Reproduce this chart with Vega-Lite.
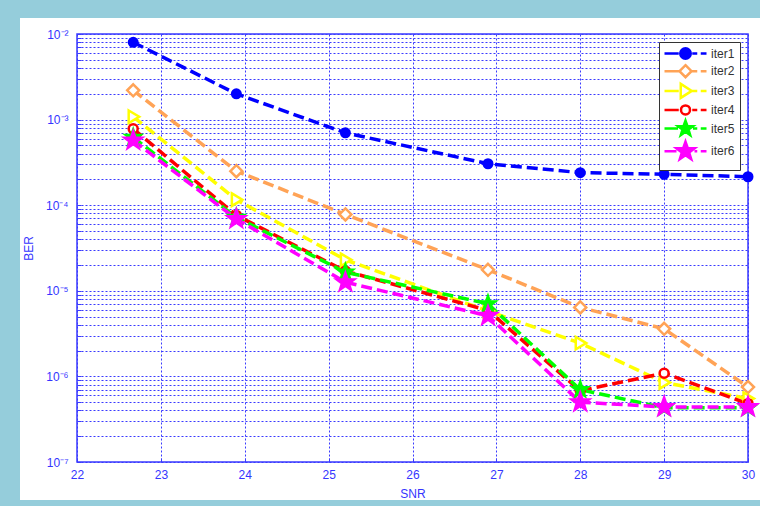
{
  "$schema": "https://vega.github.io/schema/vega-lite/v6.json",
  "width": 671,
  "height": 428,
  "autosize": {"type": "none"},
  "padding": {"left": 77, "top": 34, "right": 12, "bottom": 44},
  "background": "white",
  "config": {
    "view": {"stroke": "#3a3aff", "strokeWidth": 1.5},
    "axis": {
      "labelFont": "Liberation Sans",
      "labelFontSize": 12,
      "labelColor": "#3535ff",
      "titleFont": "Liberation Sans",
      "titleFontSize": 12,
      "titleFontWeight": "normal",
      "titleColor": "#3535ff",
      "gridColor": "#3a3aff",
      "gridDash": [2, 2],
      "gridOpacity": 1,
      "gridWidth": 1,
      "domain": false,
      "ticks": true,
      "tickColor": "#3a3aff",
      "tickSize": -4,
      "tickWidth": 1,
      "labelOverlap": false
    },
    "axisX": {"gridColor": "#3a3aff"},
    "axisY": {"gridColor": "#3a3aff"},
    "legend": {
      "labelFont": "Liberation Sans",
      "labelFontSize": 12,
      "labelColor": "#333333",
      "fillColor": "white",
      "strokeColor": "#333333",
      "padding": 5,
      "symbolOpacity": 1,
      "symbolStrokeWidth": 2.5
    }
  },
  "data": {
    "values": [
      {"series": "iter1", "SNR": 22.67, "BER": 8.0e-3},
      {"series": "iter1", "SNR": 23.9, "BER": 2.0e-3},
      {"series": "iter1", "SNR": 25.2, "BER": 7.0e-4},
      {"series": "iter1", "SNR": 26.9, "BER": 3.05e-4},
      {"series": "iter1", "SNR": 28, "BER": 2.4e-4},
      {"series": "iter1", "SNR": 29, "BER": 2.3e-4},
      {"series": "iter1", "SNR": 30, "BER": 2.15e-4},
      {"series": "iter2", "SNR": 22.67, "BER": 2.2e-3},
      {"series": "iter2", "SNR": 23.9, "BER": 2.5e-4},
      {"series": "iter2", "SNR": 25.2, "BER": 7.8e-5},
      {"series": "iter2", "SNR": 26.9, "BER": 1.76e-5},
      {"series": "iter2", "SNR": 28, "BER": 6.4e-6},
      {"series": "iter2", "SNR": 29, "BER": 3.6e-6},
      {"series": "iter2", "SNR": 30, "BER": 7.5e-7},
      {"series": "iter3", "SNR": 22.67, "BER": 1.08e-3},
      {"series": "iter3", "SNR": 23.9, "BER": 1.16e-4},
      {"series": "iter3", "SNR": 25.2, "BER": 2.3e-5},
      {"series": "iter3", "SNR": 26.9, "BER": 5.8e-6},
      {"series": "iter3", "SNR": 28, "BER": 2.45e-6},
      {"series": "iter3", "SNR": 29, "BER": 8.5e-7},
      {"series": "iter3", "SNR": 30, "BER": 5.5e-7},
      {"series": "iter4", "SNR": 22.67, "BER": 7.8e-4},
      {"series": "iter4", "SNR": 23.9, "BER": 7.6e-5},
      {"series": "iter4", "SNR": 25.2, "BER": 1.7e-5},
      {"series": "iter4", "SNR": 26.9, "BER": 5.9e-6},
      {"series": "iter4", "SNR": 28, "BER": 6.8e-7},
      {"series": "iter4", "SNR": 29, "BER": 1.09e-6},
      {"series": "iter4", "SNR": 30, "BER": 4.8e-7},
      {"series": "iter5", "SNR": 22.67, "BER": 6.2e-4},
      {"series": "iter5", "SNR": 23.9, "BER": 7.2e-5},
      {"series": "iter5", "SNR": 25.2, "BER": 1.65e-5},
      {"series": "iter5", "SNR": 26.9, "BER": 7.05e-6},
      {"series": "iter5", "SNR": 28, "BER": 7.0e-7},
      {"series": "iter5", "SNR": 29, "BER": 4.3e-7},
      {"series": "iter5", "SNR": 30, "BER": 4.3e-7},
      {"series": "iter6", "SNR": 22.67, "BER": 5.7e-4},
      {"series": "iter6", "SNR": 23.9, "BER": 6.9e-5},
      {"series": "iter6", "SNR": 25.2, "BER": 1.26e-5},
      {"series": "iter6", "SNR": 26.9, "BER": 5.1e-6},
      {"series": "iter6", "SNR": 28, "BER": 5.0e-7},
      {"series": "iter6", "SNR": 29, "BER": 4.4e-7},
      {"series": "iter6", "SNR": 30, "BER": 4.4e-7}
    ]
  },
  "layer": [
    {
      "mark": {"type": "line", "strokeWidth": 3.5, "strokeDash": [11, 5], "opacity": 1},
      "encoding": {
        "x": {
          "field": "SNR", "type": "quantitative",
          "scale": {"domain": [22, 30], "nice": false, "zero": false},
          "axis": {"values": [22, 23, 24, 25, 26, 27, 28, 29, 30], "format": "d", "grid": true, "gridColor": "#3a3aff", "labelFlush": false, "labelPadding": 11, "title": "SNR", "titlePadding": 8}
        },
        "y": {
          "field": "BER", "type": "quantitative",
          "scale": {"type": "log", "domain": [1e-7, 1e-2], "nice": false},
          "axis": {
            "values": [1e-7, 2e-7, 3e-7, 4e-7, 5e-7, 6e-7, 7e-7, 8e-7, 9e-7, 1e-6, 2e-6, 3e-6, 4e-6, 5e-6, 6e-6, 7e-6, 8e-6, 9e-6, 1e-5, 2e-5, 3e-5, 4e-5, 5e-5, 6e-5, 7e-5, 8e-5, 9e-5, 1e-4, 2e-4, 3e-4, 4e-4, 5e-4, 6e-4, 7e-4, 8e-4, 9e-4, 1e-3, 2e-3, 3e-3, 4e-3, 5e-3, 6e-3, 7e-3, 8e-3, 9e-3, 1e-2],
            "labelExpr": "abs(log(datum.value)/LN10 - round(log(datum.value)/LN10)) < 0.001 ? ['10⁻⁷','10⁻⁶','10⁻⁵','10⁻⁴','10⁻³','10⁻²'][round(log(datum.value)/LN10)+7] : ''",
            "grid": true, "gridColor": "#3a3aff", "labelPadding": 13, "title": "BER", "titlePadding": 10
          }
        },
        "detail": {"field": "series"},
        "stroke": {
          "field": "series", "type": "nominal",
          "scale": {"domain": ["iter1", "iter2", "iter3", "iter4", "iter5", "iter6"], "range": ["#0000ff", "#ffa356", "#ffff00", "#ff0000", "#00ff00", "#ff00ff"]},
          "legend": {
            "title": null, "orient": "top-right", "offset": 8, "symbolSize": 100, "symbolOffset": 15, "labelOffset": 19, "rowPadding": -4.3,
            "encode": {"symbols": {"update": {
              "shape": {"signal": "datum.value==='iter1' ? 'M-4.2,0H-1.35M1.35,0H2.35M3.05,0H4.2M-1.05,0A1.05,1.05 0 1,1 1.05,0A1.05,1.05 0 1,1 -1.05,0Z' : datum.value==='iter2' ? 'M-4.2,0H-1.35M1.35,0H2.35M3.05,0H4.2M0,-1.2L1.2,0L0,1.2L-1.2,0Z' : datum.value==='iter3' ? 'M-4.2,0H-1.35M1.35,0H2.35M3.05,0H4.2M-0.95,-1.4L1.25,0L-0.95,1.4Z' : datum.value==='iter4' ? 'M-4.2,0H-1.35M1.35,0H2.35M3.05,0H4.2M-0.9,0A0.9,0.9 0 1,1 0.9,0A0.9,0.9 0 1,1 -0.9,0Z' : datum.value==='iter5' ? 'M-4.2,0H-1.5M1.5,0H2.35M3.05,0H4.2M0,-1.6L0.376,-0.518L1.522,-0.494L0.608,0.198L0.941,1.294L0,0.64L-0.941,1.294L-0.608,0.198L-1.522,-0.494L-0.376,-0.518Z' : 'M-4.2,0H-1.8M1.8,0H2.35M3.05,0H4.2M0,-1.95L0.458,-0.632L1.854,-0.603L0.741,0.242L1.147,1.578L0,0.78L-1.147,1.578L-0.741,0.242L-1.854,-0.603L-0.458,-0.632Z'"},
              "fill": {"signal": "datum.value==='iter1' ? '#0000ff' : datum.value==='iter5' ? '#00ff00' : datum.value==='iter6' ? '#ff00ff' : '#ffffff'"},
              "strokeWidth": {"value": 2.5},
              "opacity": {"value": 1}
            }}}
          }
        }
      }
    },
    {
      "transform": [{"filter": "datum.series === 'iter1'"}],
      "mark": {"type": "point", "size": 100, "strokeWidth": 2.5, "opacity": 1, "stroke": "#0000ff", "fill": "#0000ff", "shape": "M-0.85,0A0.85,0.85 0 1,1 0.85,0A0.85,0.85 0 1,1 -0.85,0Z"},
      "encoding": {"x": {"field": "SNR", "type": "quantitative"}, "y": {"field": "BER", "type": "quantitative"}}
    },
    {
      "transform": [{"filter": "datum.series === 'iter2'"}],
      "mark": {"type": "point", "size": 100, "strokeWidth": 2.5, "opacity": 1, "stroke": "#ffa356", "fill": "#ffffff", "shape": "M0,-1.2L1.2,0L0,1.2L-1.2,0Z"},
      "encoding": {"x": {"field": "SNR", "type": "quantitative"}, "y": {"field": "BER", "type": "quantitative"}}
    },
    {
      "transform": [{"filter": "datum.series === 'iter3'"}],
      "mark": {"type": "point", "size": 100, "strokeWidth": 2.5, "opacity": 1, "stroke": "#ffff00", "fill": "#ffffff", "shape": "M-0.9,-1.25L1.2,0L-0.9,1.25Z"},
      "encoding": {"x": {"field": "SNR", "type": "quantitative"}, "y": {"field": "BER", "type": "quantitative"}}
    },
    {
      "transform": [{"filter": "datum.series === 'iter4'"}],
      "mark": {"type": "point", "size": 100, "strokeWidth": 2.5, "opacity": 1, "stroke": "#ff0000", "fill": "#ffffff", "shape": "M-0.9,0A0.9,0.9 0 1,1 0.9,0A0.9,0.9 0 1,1 -0.9,0Z"},
      "encoding": {"x": {"field": "SNR", "type": "quantitative"}, "y": {"field": "BER", "type": "quantitative"}}
    },
    {
      "transform": [{"filter": "datum.series === 'iter5'"}],
      "mark": {"type": "point", "size": 100, "strokeWidth": 2, "opacity": 1, "stroke": "#00ff00", "fill": "#00ff00", "shape": "M0,-1.7L0.4,-0.551L1.617,-0.525L0.646,0.211L1,1.375L0,0.68L-1,1.375L-0.646,0.211L-1.617,-0.525L-0.4,-0.551Z"},
      "encoding": {"x": {"field": "SNR", "type": "quantitative"}, "y": {"field": "BER", "type": "quantitative"}}
    },
    {
      "transform": [{"filter": "datum.series === 'iter6'"}],
      "mark": {"type": "point", "size": 100, "strokeWidth": 2, "opacity": 1, "stroke": "#ff00ff", "fill": "#ff00ff", "shape": "M0,-2L0.47,-0.648L1.902,-0.618L0.76,0.248L1.176,1.618L0,0.8L-1.176,1.618L-0.76,0.248L-1.902,-0.618L-0.47,-0.648Z"},
      "encoding": {"x": {"field": "SNR", "type": "quantitative"}, "y": {"field": "BER", "type": "quantitative"}}
    },
    {
      "data": {"values": [{"frame": "outer"}]},
      "mark": {"type": "rect", "filled": false, "stroke": "#95cddb", "strokeWidth": 40},
      "encoding": {
        "x": {"datum": 21.082, "type": "quantitative"},
        "x2": {"datum": 31.5},
        "y": {"datum": 0.02636, "type": "quantitative"},
        "y2": {"datum": 2.1e-8}
      }
    }
  ]
}
